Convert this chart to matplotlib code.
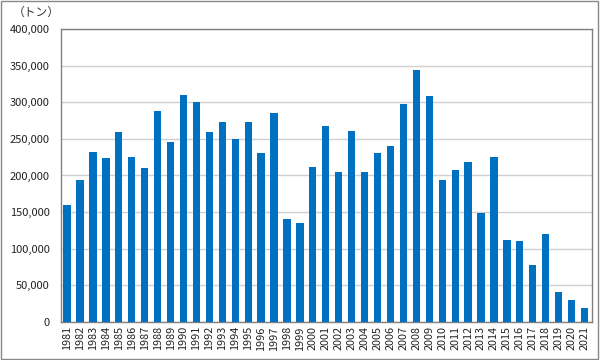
import matplotlib
matplotlib.use("Agg")
import matplotlib.pyplot as plt
from matplotlib.ticker import FuncFormatter

plt.rcParams['font.family'] = ['Noto Sans CJK JP', 'DejaVu Sans']

years = [str(y) for y in range(1981, 2022)]
values = [160000, 194000, 232000, 224000, 259000, 225000, 210000, 288000, 246000, 310000,
          300000, 259000, 273000, 250000, 273000, 231000, 285000, 141000, 135000, 212000,
          267000, 205000, 261000, 205000, 231000, 240000, 297000, 344000, 308000, 194000,
          208000, 218000, 149000, 225000, 112000, 110000, 78000, 120000, 41000, 30000, 19000]
unit_label = "（トン）"

fig = plt.figure(figsize=(6, 3.6), dpi=100)
ax = fig.add_axes([61/600, 1-322/360, (592-61)/600, (322-29)/360])

x = list(range(len(years)))
ax.bar(x, values, width=0.56, color='#0070C0', zorder=3)
ax.set_xlim(-0.47, len(years) - 1 + 0.58)
ax.set_ylim(0, 400000)
ax.set_yticks(range(0, 400001, 50000))
ax.yaxis.set_major_formatter(FuncFormatter(lambda v, p: f"{int(v):,}"))
ax.set_xticks(x)
ax.set_xticklabels(years, rotation=90, fontsize=7.8)
ax.tick_params(axis='y', labelsize=8, length=0, pad=8, labelcolor='#222222')
ax.tick_params(axis='x', length=0, pad=3, labelcolor='#222222')
ax.grid(axis='y', color='#d0d0d0', linewidth=1, zorder=0)
for s in ax.spines.values():
    s.set_color('#808080')
    s.set_linewidth(1)

fig.text(36/600, 1-12/360, unit_label, fontsize=8.5, ha='center', va='center', color='#333333')

border = plt.Rectangle((0.002, 0.003), 0.995, 0.994, transform=fig.transFigure,
                       fill=False, edgecolor='#888888', linewidth=1)
fig.patches.append(border)

fig.savefig("out.png", dpi=100)
